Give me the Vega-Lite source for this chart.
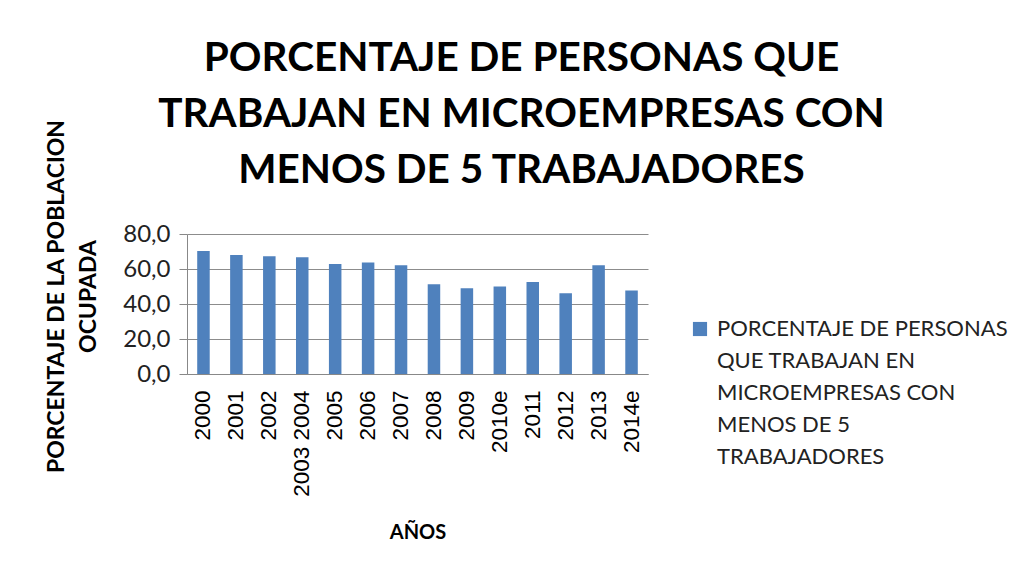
{
  "$schema": "https://vega.github.io/schema/vega-lite/v6.json",
  "autosize": "none",
  "width": 461,
  "height": 140,
  "padding": {"left": 187, "top": 234, "right": 376, "bottom": 201},
  "background": "white",
  "title": {
    "text": ["PORCENTAJE DE PERSONAS QUE", "TRABAJAN EN MICROEMPRESAS CON", "MENOS DE 5 TRABAJADORES"],
    "font": "Lato",
    "fontWeight": "bold",
    "fontSize": 40.5,
    "lineHeight": 56,
    "color": "#000000",
    "anchor": "middle",
    "frame": "group",
    "dx": 104,
    "offset": -72
  },
  "data": {
    "values": [
      {"anio": "2000", "valor": 70.3},
      {"anio": "2001", "valor": 68.0},
      {"anio": "2002", "valor": 67.3},
      {"anio": "2003 2004", "valor": 66.7},
      {"anio": "2005", "valor": 62.9},
      {"anio": "2006", "valor": 63.7},
      {"anio": "2007", "valor": 62.1},
      {"anio": "2008", "valor": 51.3},
      {"anio": "2009", "valor": 49.0},
      {"anio": "2010e", "valor": 50.0},
      {"anio": "2011", "valor": 52.6},
      {"anio": "2012", "valor": 46.2},
      {"anio": "2013", "valor": 62.1},
      {"anio": "2014e", "valor": 47.7}
    ]
  },
  "mark": {"type": "bar"},
  "encoding": {
    "x": {
      "field": "anio",
      "type": "nominal",
      "sort": null,
      "scale": {"paddingInner": 0.62, "paddingOuter": 0.31},
      "axis": {
        "title": "AÑOS",
        "titleFont": "Lato",
        "titleFontWeight": "bold",
        "titleFontSize": 20,
        "titleColor": "#000000",
        "titlePadding": 26,
        "labelAngle": -90,
        "labelFont": "Liberation Sans",
        "labelFontSize": 22.5,
        "labelColor": "#000000",
        "labelPadding": 16,
        "ticks": false,
        "domainColor": "#888888",
        "grid": false
      }
    },
    "y": {
      "field": "valor",
      "type": "quantitative",
      "scale": {"domain": [0, 80]},
      "axis": {
        "values": [0, 20, 40, 60, 80],
        "labelExpr": "replace(format(datum.value, '.1f'), '.', ',')",
        "labelFont": "Lato",
        "labelFontSize": 24,
        "labelColor": "#222222",
        "labelPadding": 9,
        "tickColor": "#888888",
        "tickSize": 8,
        "domainColor": "#888888",
        "gridColor": "#8c8c8c",
        "grid": true,
        "title": ["PORCENTAJE DE LA POBLACION", "OCUPADA"],
        "titleFont": "Lato",
        "titleFontWeight": "bold",
        "titleFontSize": 23,
        "titleLineHeight": 32,
        "titleColor": "#000000",
        "titleAngle": -90,
        "titleX": -131,
        "titleY": 62,
        "titleAlign": "center",
        "titleBaseline": "middle"
      }
    },
    "color": {
      "datum": "PORCENTAJE DE PERSONAS QUE TRABAJAN EN MICROEMPRESAS CON MENOS DE 5 TRABAJADORES",
      "type": "nominal",
      "scale": {"range": ["#4F81BD"]},
      "legend": {
        "title": null,
        "orient": "none",
        "legendX": 502,
        "legendY": 84,
        "symbolType": "square",
        "symbolSize": 200,
        "symbolStrokeWidth": 0,
        "labelFont": "Lato",
        "labelFontSize": 22,
        "labelColor": "#222222",
        "labelLimit": 0,
        "labelOffset": 6,
        "labelExpr": "['PORCENTAJE DE PERSONAS', 'QUE TRABAJAN EN', 'MICROEMPRESAS CON', 'MENOS DE 5', 'TRABAJADORES']"
      }
    }
  },
  "config": {
    "view": {"stroke": null},
    "style": {"guide-label": {"lineHeight": 32}}
  }
}
